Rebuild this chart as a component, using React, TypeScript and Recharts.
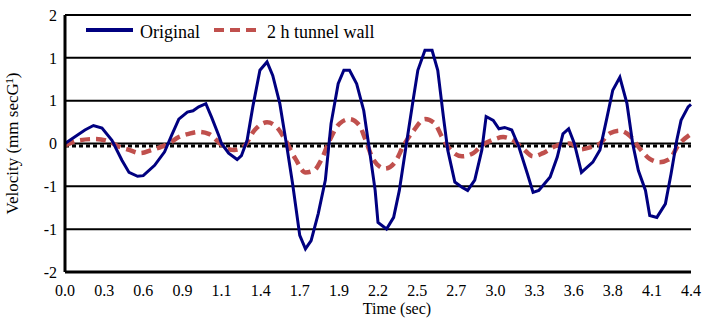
import { LineChart, Line, XAxis, YAxis, CartesianGrid, Legend, Label } from "recharts"

const originalTime = [
  0, 0.14, 0.2, 0.26, 0.33, 0.4, 0.45, 0.51, 0.55, 0.63, 0.7, 0.75, 0.8, 0.86, 0.9, 0.94, 0.99, 1.03, 1.08, 1.1,
  1.15, 1.21, 1.24, 1.28, 1.32, 1.37, 1.42, 1.46, 1.51, 1.56, 1.6, 1.65, 1.69, 1.73, 1.78, 1.83, 1.87, 1.92, 1.96,
  2.0, 2.05, 2.1, 2.14, 2.18, 2.2, 2.26, 2.31, 2.35, 2.4, 2.45, 2.48, 2.53, 2.58, 2.62, 2.66, 2.69, 2.74, 2.79,
  2.83, 2.88, 2.93, 2.96, 3.01, 3.05, 3.09, 3.14, 3.19, 3.25, 3.29, 3.33, 3.41, 3.46, 3.5, 3.54, 3.58, 3.63, 3.71,
  3.76, 3.81, 3.85, 3.9, 3.95, 3.99, 4.03, 4.08, 4.11, 4.16, 4.22, 4.26, 4.3, 4.33, 4.38, 4.4,
]
const originalVelocity = [
  0, 0.21, 0.28, 0.24, 0.05, -0.26, -0.45, -0.51, -0.5, -0.34, -0.13, 0.13, 0.38, 0.49, 0.51, 0.57, 0.62, 0.41, 0.13, 0,
  -0.15, -0.25, -0.19, 0.05, 0.57, 1.14, 1.27, 1.06, 0.62, -0.06, -0.63, -1.43, -1.64, -1.51, -1.09, -0.57, 0.31, 0.93, 1.14,
  1.14, 0.93, 0.51, -0.1, -0.73, -1.23, -1.33, -1.15, -0.73, 0, 0.72, 1.14, 1.45, 1.45, 1.14, 0.41, -0.1, -0.6, -0.68,
  -0.73, -0.57, -0.1, 0.42, 0.36, 0.23, 0.25, 0.21, -0.05, -0.47, -0.76, -0.73, -0.52, -0.21, 0.15, 0.23, 0, -0.45, -0.29,
  -0.1, 0.41, 0.83, 1.03, 0.62, 0, -0.42, -0.73, -1.12, -1.15, -0.94, -0.47, 0.05, 0.36, 0.57, 0.61,
]

const wallTime = [
  0, 0.1, 0.21, 0.31, 0.38, 0.45, 0.53, 0.61, 0.68, 0.73, 0.8, 0.87, 0.94, 1.01, 1.08, 1.12, 1.19, 1.26, 1.33,
  1.42, 1.49, 1.55, 1.62, 1.69, 1.75, 1.8, 1.86, 1.93, 2.0, 2.07, 2.11, 2.17, 2.25, 2.32, 2.38, 2.45, 2.53, 2.6,
  2.65, 2.71, 2.79, 2.87, 2.93, 3.0, 3.08, 3.15, 3.22, 3.29, 3.36, 3.46, 3.55, 3.62, 3.69, 3.76, 3.83, 3.9, 3.97,
  4.04, 4.11, 4.18, 4.25, 4.31, 4.4,
]
const wallVelocity = [
  -0.03, 0.05, 0.07, 0.03, -0.05, -0.1, -0.15, -0.1, -0.05, 0, 0.1, 0.15, 0.18, 0.15, 0.02, -0.06, -0.1, -0.04, 0.2,
  0.33, 0.25, 0.05, -0.24, -0.45, -0.42, -0.26, 0.05, 0.31, 0.38, 0.28, 0.07, -0.26, -0.39, -0.29, -0.03, 0.2, 0.38, 0.31,
  0.1, -0.1, -0.2, -0.15, -0.03, 0.05, 0.1, 0.05, -0.08, -0.2, -0.15, -0.03, 0, -0.09, -0.06, 0, 0.16, 0.2, 0.12,
  -0.08, -0.24, -0.29, -0.24, -0.03, 0.15,
]

const baselineTime = [0, 1.1, 2.2, 3.3, 4.4]
const baselineVelocity = [-0.04, -0.04, -0.04, -0.04, -0.04]

const xTicks = [0, 0.275, 0.55, 0.825, 1.1, 1.375, 1.65, 1.925, 2.2, 2.475, 2.75, 3.025, 3.3, 3.575, 3.85, 4.125, 4.4]
const xTickLabels = ["0.0", "0.3", "0.6", "0.9", "1.1", "1.4", "1.7", "1.9", "2.2", "2.5", "2.7", "3.0", "3.3", "3.6", "3.8", "4.1", "4.4"]
const yTicks = [-2, -4 / 3, -2 / 3, 0, 2 / 3, 4 / 3, 2]
const yTickLabels = ["-2", "-1", "-1", "0", "1", "1", "2"]

const originalData = originalTime.map((t, i) => ({ t, v: originalVelocity[i] }))
const wallData = wallTime.map((t, i) => ({ t, v: wallVelocity[i] }))
const baselineData = baselineTime.map((t, i) => ({ t, v: baselineVelocity[i] }))

const FONT = '"Liberation Serif", "Times New Roman", serif'
const NAVY = "#000080"
const BRICK = "#C0504D"

function ChartLegend() {
  return (
    <svg width={310} height={24} style={{ display: "block" }}>
      <line x1={6} x2={53} y1={11} y2={11} stroke={NAVY} strokeWidth={4} />
      <text x={60} y={19} fontFamily={FONT} fontSize={18} fill="#000">Original</text>
      <line x1={134} x2={178} y1={11} y2={11} stroke={BRICK} strokeWidth={4} strokeDasharray="10 6" />
      <text x={187} y={19} fontFamily={FONT} fontSize={18} fill="#000">2 h tunnel wall</text>
    </svg>
  )
}

export default function App() {
  return (
    <div style={{ width: 704, height: 322 }}>
      <style>{"body{margin:0}"}</style>
      <LineChart width={704} height={322} margin={{ top: 15, right: 13, left: 0, bottom: 0 }}>
        <CartesianGrid yAxisId="l" horizontal vertical={false} stroke="#000" strokeWidth={2} />
        <XAxis
          dataKey="t"
          type="number"
          domain={[0, 4.4]}
          ticks={xTicks}
          tickFormatter={(v, i) => xTickLabels[i]}
          interval={0}
          height={50}
          tickLine={false}
          tickMargin={7}
          axisLine={{ stroke: "#000", strokeWidth: 3 }}
          tick={{ fill: "#000", fontFamily: FONT, fontSize: 16 }}
          allowDuplicatedCategory={false}
        >
          <Label value="Time (sec)" position="insideBottom" offset={8} dx={19} fill="#000" fontFamily={FONT} fontSize={16} />
        </XAxis>
        <YAxis
          yAxisId="l"
          type="number"
          domain={[-2, 2]}
          ticks={yTicks}
          tickFormatter={(v, i) => yTickLabels[i]}
          interval={0}
          width={65}
          tickLine={false}
          axisLine={{ stroke: "#000", strokeWidth: 3 }}
          tick={{ fill: "#000", fontFamily: FONT, fontSize: 16 }}
          label={{
            value: "Velocity (mm secG\u00B9)",
            angle: -90,
            position: "insideLeft",
            offset: 12,
            style: { textAnchor: "middle", fill: "#000", fontFamily: FONT, fontSize: 17 },
          }}
        />
        <YAxis yAxisId="r" orientation="right" domain={[-2, 2]} width={0} tick={false} tickLine={false} axisLine={{ stroke: "#000", strokeWidth: 3 }} />
        <Legend
          layout="horizontal"
          verticalAlign="middle"
          align="center"
          content={() => <ChartLegend />}
          wrapperStyle={{ top: 19, left: 80, width: 310, height: 24 }}
        />
        <Line
          yAxisId="l"
          data={baselineData}
          dataKey="v"
          type="linear"
          stroke="#000"
          strokeWidth={3}
          strokeDasharray="4 3"
          dot={false}
          legendType="none"
          isAnimationActive={false}
        />
        <Line
          yAxisId="l"
          data={wallData}
          dataKey="v"
          name="2 h tunnel wall"
          type="monotone"
          stroke={BRICK}
          strokeWidth={4.5}
          strokeDasharray="10 6"
          dot={false}
          isAnimationActive={false}
        />
        <Line
          yAxisId="l"
          data={originalData}
          dataKey="v"
          name="Original"
          type="linear"
          stroke={NAVY}
          strokeWidth={3}
          dot={false}
          isAnimationActive={false}
        />
      </LineChart>
    </div>
  )
}
